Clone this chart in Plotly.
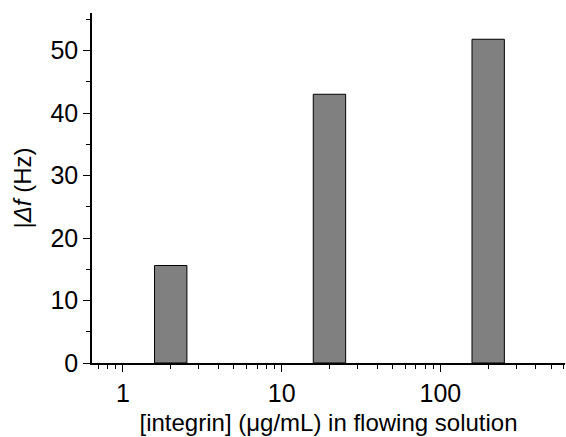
import plotly.graph_objects as go

concentrations = [2, 20, 200]
delta_f = [15.6, 43.0, 51.8]

half_decades = 0.102
lo = [c * 10 ** (-half_decades) for c in concentrations]
hi = [c * 10 ** (half_decades) for c in concentrations]
offsets = [l - c for l, c in zip(lo, concentrations)]
widths = [h - l for h, l in zip(hi, lo)]

fig = go.Figure(go.Bar(
    x=concentrations, y=delta_f,
    offset=offsets, width=widths,
    marker=dict(color="#808080", line=dict(color="black", width=1)),
))

tickfont = dict(family="Liberation Sans, Arial, sans-serif", size=25, color="black")
titlefont = dict(family="Liberation Sans, Arial, sans-serif", size=24, color="black")
fig.update_layout(
    width=566, height=437,
    margin=dict(l=92, r=1, t=13, b=74),
    paper_bgcolor="white", plot_bgcolor="white",
    showlegend=False,
    font=tickfont,
    xaxis=dict(
        type="log", range=[-0.195, 2.785],
        showline=True, linecolor="black", linewidth=1.5,
        ticks="outside", ticklen=7, tickwidth=1.2, tickcolor="black",
        tickvals=[1, 10, 100], ticktext=["1", "10", "100"],
        minor=dict(ticks="outside", ticklen=4, tickwidth=1.2, tickcolor="black",
                   tickvals=[0.7, 0.8, 0.9, 2, 3, 4, 5, 6, 7, 8, 9,
                             20, 30, 40, 50, 60, 70, 80, 90,
                             200, 300, 400, 500, 600], showgrid=False),
        showgrid=False, zeroline=False,
        title=dict(text="[integrin] (μg/mL) in flowing solution", standoff=8, font=titlefont),
        tickfont=tickfont,
    ),
    yaxis=dict(
        range=[0, 56],
        showline=True, linecolor="black", linewidth=1.5,
        ticks="outside", ticklen=7, tickwidth=1.2, tickcolor="black",
        tickvals=[0, 10, 20, 30, 40, 50],
        minor=dict(ticks="outside", ticklen=4, tickwidth=1.2, tickcolor="black",
                   tickvals=[5, 15, 25, 35, 45, 55], showgrid=False),
        showgrid=False, zeroline=False,
        title=dict(text="|<i>Δf</i> (Hz)", standoff=12, font=titlefont),
        tickfont=tickfont,
    ),
)

fig.write_html("out.html")
